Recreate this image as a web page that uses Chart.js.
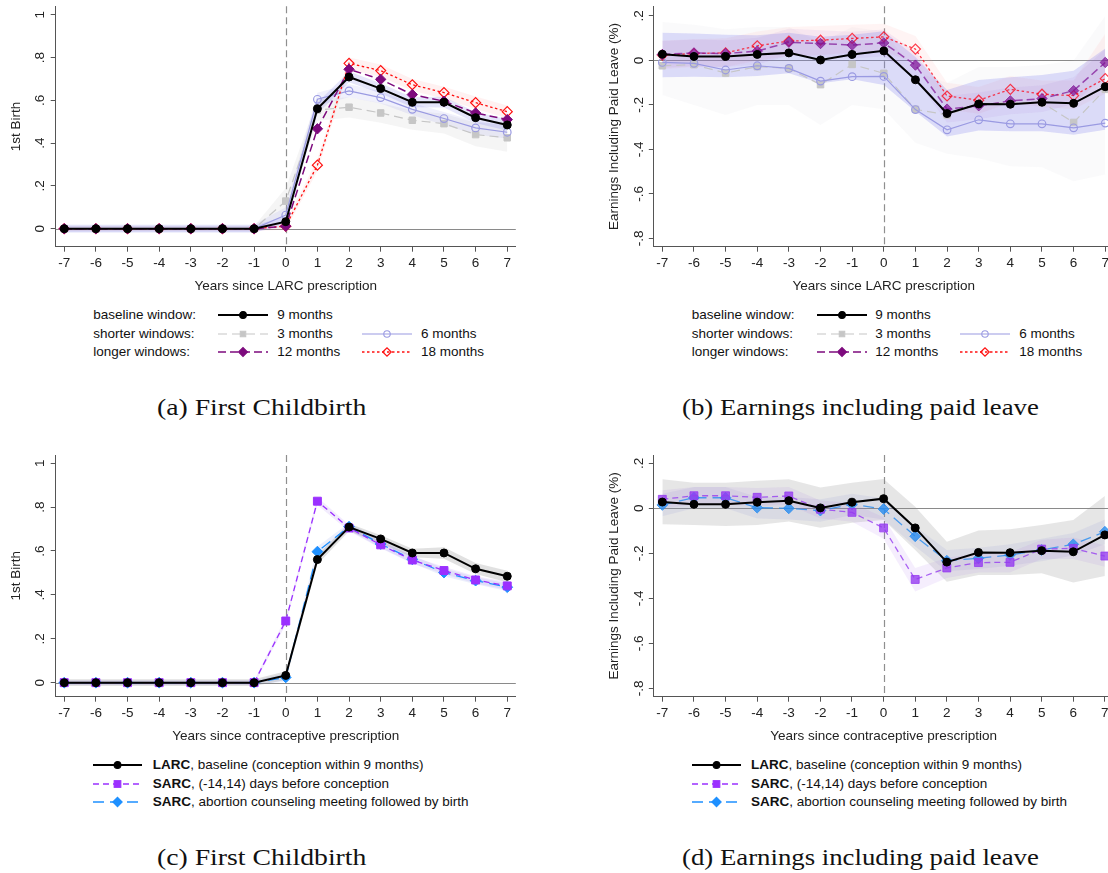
<!DOCTYPE html>
<html>
<head>
<meta charset="utf-8">
<script src="https://cdn.jsdelivr.net/npm/chart.js@4.4.1/dist/chart.umd.min.js"></script>
<style>
  html, body { margin: 0; padding: 0; background: #fff; overflow: hidden; width: 1108px; height: 873px; }
  body { position: relative; font-family: "Liberation Sans", Arial, sans-serif; color: #222; }
  canvas { position: absolute; }
  .leg { position: absolute; font-size: 13.5px; line-height: 16px; white-space: nowrap; color: #111; }
  .cap { position: absolute; font-family: "Liberation Serif", "Times New Roman", serif; font-size: 24px;
         line-height: 24px; white-space: nowrap; transform-origin: 0 50%; color: #111; }
</style>
</head>
<body>
<canvas id="ca"></canvas>
<canvas id="cb"></canvas>
<canvas id="cc"></canvas>
<canvas id="cd"></canvas>
<div id="legends"></div>
<div class="cap" data-w="209" style="left:157px;top:395px">(a) First Childbirth</div>
<div class="cap" data-w="357" style="left:682px;top:395px">(b) Earnings including paid leave</div>
<div class="cap" data-w="209" style="left:157px;top:845px">(c) First Childbirth</div>
<div class="cap" data-w="357" style="left:682px;top:845px">(d) Earnings including paid leave</div>
<script>
// ---- data ----
const years = [-7, -6, -5, -4, -3, -2, -1, 0, 1, 2, 3, 4, 5, 6, 7];
const birthTicks = [0, 0.2, 0.4, 0.6, 0.8, 1];
const birthTickLabels = ['0', '.2', '.4', '.6', '.8', '1'];
const earnTicks = [-0.8, -0.6, -0.4, -0.2, 0, 0.2];
const earnTickLabels = ['-.8', '-.6', '-.4', '-.2', '0', '.2'];

// (a) first birth, by conception window
const birth9  = [0, 0, 0, 0, 0, 0, 0, 0.033, 0.561, 0.709, 0.655, 0.591, 0.591, 0.519, 0.485];
const birth3  = [0, 0, 0, 0, 0, 0, 0, 0.129, 0.555, 0.568, 0.541, 0.507, 0.491, 0.440, 0.425];
const birth6  = [0, 0, 0, 0, 0, 0, 0, 0.064, 0.605, 0.644, 0.613, 0.558, 0.515, 0.471, 0.451];
const birth12 = [0, 0, 0, 0, 0, 0, 0, 0.012, 0.467, 0.745, 0.698, 0.627, 0.596, 0.541, 0.510];
const birth18 = [0, 0, 0, 0, 0, 0, 0, 0.012, 0.297, 0.773, 0.739, 0.673, 0.636, 0.589, 0.547];
const bandA9Lo  = [-0.015, -0.015, -0.015, -0.015, -0.015, -0.015, -0.015, 0.010, 0.535, 0.685, 0.632, 0.568, 0.566, 0.494, 0.458];
const bandA9Hi  = [0.015, 0.015, 0.015, 0.015, 0.015, 0.015, 0.015, 0.058, 0.590, 0.735, 0.680, 0.615, 0.617, 0.545, 0.512];
const bandA6Lo  = [-0.02, -0.02, -0.02, -0.02, -0.02, -0.02, -0.02, 0.030, 0.575, 0.615, 0.585, 0.530, 0.485, 0.440, 0.420];
const bandA6Hi  = [0.02, 0.02, 0.02, 0.02, 0.02, 0.02, 0.02, 0.100, 0.635, 0.675, 0.643, 0.588, 0.545, 0.502, 0.482];
const bandA3Lo  = [-0.012, -0.012, -0.012, -0.012, -0.012, -0.012, -0.012, 0.070, 0.505, 0.520, 0.495, 0.462, 0.445, 0.385, 0.360];
const bandA3Hi  = [0.012, 0.012, 0.012, 0.012, 0.012, 0.012, 0.012, 0.190, 0.605, 0.615, 0.588, 0.552, 0.537, 0.495, 0.490];
const bandA18Lo = [-0.01, -0.01, -0.01, -0.01, -0.01, -0.01, -0.01, -0.005, 0.270, 0.745, 0.710, 0.645, 0.608, 0.560, 0.518];
const bandA18Hi = [0.01, 0.01, 0.01, 0.01, 0.01, 0.01, 0.01, 0.030, 0.325, 0.800, 0.768, 0.700, 0.664, 0.618, 0.576];

// (b) earnings incl. paid leave, by conception window
const earn9  = [0.028, 0.018, 0.018, 0.027, 0.034, 0.002, 0.027, 0.043, -0.087, -0.239, -0.196, -0.197, -0.188, -0.193, -0.118];
const earn3  = [-0.024, -0.019, -0.057, -0.028, -0.036, -0.109, -0.018, -0.058, -0.220, -0.245, -0.195, -0.190, -0.190, -0.279, -0.130];
const earn6  = [-0.009, -0.013, -0.043, -0.024, -0.036, -0.093, -0.073, -0.072, -0.221, -0.312, -0.267, -0.285, -0.285, -0.303, -0.282];
const earn12 = [0.027, 0.034, 0.031, 0.042, 0.082, 0.076, 0.069, 0.079, -0.021, -0.219, -0.204, -0.182, -0.172, -0.136, -0.009];
const earn18 = [0.024, 0.031, 0.034, 0.066, 0.087, 0.091, 0.099, 0.106, 0.051, -0.160, -0.179, -0.130, -0.152, -0.158, -0.082];
const bandB9Lo  = [-0.076, -0.073, -0.076, -0.070, -0.058, -0.103, -0.085, -0.110, -0.230, -0.342, -0.315, -0.319, -0.319, -0.334, -0.312];
const bandB9Hi  = [0.125, 0.121, 0.116, 0.113, 0.125, 0.106, 0.116, 0.131, 0.016, -0.133, -0.088, -0.076, -0.066, -0.046, 0.054];
const bandB3Lo  = [-0.155, -0.200, -0.245, -0.200, -0.200, -0.290, -0.200, -0.220, -0.370, -0.420, -0.440, -0.476, -0.480, -0.543, -0.513];
const bandB3Hi  = [0.173, 0.160, 0.140, 0.150, 0.150, 0.080, 0.150, 0.130, -0.050, -0.100, -0.030, -0.030, -0.020, 0.000, 0.200];
const bandB12Lo = [-0.033, -0.026, -0.029, -0.018, 0.022, 0.016, 0.009, 0.019, -0.081, -0.279, -0.264, -0.242, -0.232, -0.196, -0.069];
const bandB12Hi = [0.087, 0.094, 0.091, 0.102, 0.142, 0.136, 0.129, 0.139, 0.039, -0.159, -0.144, -0.122, -0.112, -0.076, 0.051];
const bandB18Lo = [-0.040, -0.030, -0.030, 0.000, 0.020, 0.025, 0.035, 0.040, -0.010, -0.220, -0.240, -0.190, -0.210, -0.220, -0.150];
const bandB18Hi = [0.090, 0.095, 0.100, 0.130, 0.150, 0.155, 0.160, 0.165, 0.110, -0.100, -0.120, -0.070, -0.090, -0.090, 0.120];

// (c) first birth, LARC vs SARC
const larcBirth  = birth9;
const sarcBirth  = [0, 0, 0, 0, 0, 0, 0, 0.281, 0.827, 0.705, 0.628, 0.559, 0.511, 0.468, 0.441];
const abortBirth = [0, 0, 0, 0, 0, 0, 0, 0.024, 0.597, 0.711, 0.632, 0.562, 0.502, 0.465, 0.435];
const bandC9Lo = [-0.015, -0.015, -0.015, -0.015, -0.015, -0.015, -0.015, 0.012, 0.540, 0.690, 0.635, 0.572, 0.565, 0.495, 0.458];
const bandC9Hi = [0.015, 0.015, 0.015, 0.015, 0.015, 0.015, 0.015, 0.052, 0.582, 0.725, 0.672, 0.610, 0.617, 0.545, 0.510];
const bandCsLo = [-0.01, -0.01, -0.01, -0.01, -0.01, -0.01, -0.01, 0.265, 0.810, 0.690, 0.612, 0.543, 0.495, 0.452, 0.423];
const bandCsHi = [0.01, 0.01, 0.01, 0.01, 0.01, 0.01, 0.01, 0.297, 0.845, 0.720, 0.645, 0.575, 0.528, 0.485, 0.460];
const bandCaLo = [-0.01, -0.01, -0.01, -0.01, -0.01, -0.01, -0.01, 0.005, 0.575, 0.695, 0.615, 0.545, 0.485, 0.448, 0.418];
const bandCaHi = [0.01, 0.01, 0.01, 0.01, 0.01, 0.01, 0.01, 0.043, 0.620, 0.728, 0.650, 0.580, 0.520, 0.482, 0.452];

// (d) earnings, LARC vs SARC
const larcEarn  = earn9;
const sarcEarn  = [0.040, 0.056, 0.056, 0.049, 0.055, -0.004, -0.018, -0.087, -0.316, -0.265, -0.241, -0.240, -0.181, -0.178, -0.212];
const abortEarn = [0.015, 0.047, 0.047, 0.003, 0.000, -0.010, 0.018, -0.003, -0.124, -0.233, -0.222, -0.207, -0.185, -0.160, -0.104];
const bandD9Lo = [-0.071, -0.074, -0.079, -0.074, -0.059, -0.086, -0.064, -0.052, -0.185, -0.326, -0.296, -0.296, -0.289, -0.330, -0.301];
const bandD9Hi = [0.129, 0.114, 0.114, 0.123, 0.129, 0.093, 0.114, 0.130, 0.007, -0.148, -0.099, -0.093, -0.074, -0.052, 0.055];
const bandDsLo = [0.000, 0.015, 0.015, 0.010, 0.015, -0.045, -0.060, -0.135, -0.370, -0.310, -0.285, -0.285, -0.225, -0.225, -0.260];
const bandDsHi = [0.080, 0.095, 0.095, 0.090, 0.095, 0.035, 0.025, -0.040, -0.265, -0.220, -0.200, -0.195, -0.140, -0.130, -0.165];
const bandDaLo = [-0.035, 0.000, 0.000, -0.045, -0.050, -0.060, -0.030, -0.050, -0.170, -0.280, -0.270, -0.255, -0.235, -0.210, -0.160];
const bandDaHi = [0.065, 0.095, 0.095, 0.050, 0.050, 0.040, 0.065, 0.045, -0.080, -0.185, -0.175, -0.160, -0.135, -0.110, -0.050];

// ---- styles ----
const S = {
  m9:    { color: '#000000', width: 2,   dash: [],      point: 'circle',  r: 4,   fill: true },
  m3:    { color: '#c6c6c6', width: 1.2, dash: [9, 5],  point: 'rect',    r: 4.6, fill: true },
  m6:    { color: '#9a9ae2', width: 1.2, dash: [],      point: 'circle',  r: 3.8, fill: false },
  m12:   { color: '#7d0a7d', width: 1.5, dash: [8, 4],  point: 'rectRot', r: 5.2, fill: true },
  m18:   { color: '#ff1010', width: 1.3, dash: [2.5, 2.5], point: 'rectRot', r: 5, fill: false },
  sarc:  { color: '#9b30ff', width: 1.3, dash: [6, 4],  point: 'rect',    r: 5.6, fill: true },
  abort: { color: '#1e90ff', width: 1.3, dash: [11, 6], point: 'rectRot', r: 5.4, fill: true }
};
const fontSpec = { family: '"Liberation Sans", Arial, sans-serif', size: 13.5 };

function pts(vals) { return years.map((x, i) => ({ x, y: vals[i] })); }

function lineDs(vals, st, order, color) {
  const c = color || st.color;
  return {
    data: pts(vals), borderColor: c, borderWidth: st.width, borderDash: st.dash,
    pointStyle: st.point, pointRadius: st.r, pointBorderWidth: st.fill ? 1 : 1.2,
    pointBackgroundColor: st.fill ? c : 'rgba(0,0,0,0)', pointBorderColor: c,
    fill: false, tension: 0, order
  };
}
function bandDs(lo, hi, color, order) {
  return [
    { data: pts(lo), borderColor: 'rgba(0,0,0,0)', borderWidth: 1, pointRadius: 0, fill: false, order },
    { data: pts(hi), borderColor: 'rgba(0,0,0,0)', borderWidth: 1, pointRadius: 0, fill: '-1', backgroundColor: color, order }
  ];
}

// reference lines + rotated y tick labels (Stata look)
const stataAxes = {
  id: 'stataAxes',
  beforeDatasetsDraw(chart) {
    const { ctx, chartArea: a, scales: { x, y } } = chart;
    ctx.save();
    ctx.lineWidth = 1;
    ctx.strokeStyle = '#8a8a8a';
    const y0 = Math.round(y.getPixelForValue(0)) + 0.5;
    ctx.beginPath(); ctx.moveTo(a.left, y0); ctx.lineTo(a.right, y0); ctx.stroke();
    ctx.strokeStyle = '#8f8f8f';
    ctx.lineWidth = 1.2;
    ctx.setLineDash([7, 4]);
    const x0 = Math.round(x.getPixelForValue(0)) + 0.5;
    ctx.beginPath(); ctx.moveTo(x0, a.top); ctx.lineTo(x0, a.bottom); ctx.stroke();
    ctx.restore();
  },
  afterDraw(chart, args, opts) {
    const { ctx, chartArea: a, scales: { y } } = chart;
    ctx.save();
    ctx.font = '13.5px "Liberation Sans", Arial, sans-serif';
    ctx.fillStyle = '#222';
    ctx.textAlign = 'center';
    ctx.textBaseline = 'middle';
    opts.ticks.forEach((v, i) => {
      ctx.save();
      ctx.translate(a.left - 15, y.getPixelForValue(v));
      ctx.rotate(-Math.PI / 2);
      ctx.fillText(opts.labels[i], 0, 0);
      ctx.restore();
    });
    ctx.restore();
  }
};

function buildChart(p) {
  const c = document.getElementById(p.id);
  const [bx, by, bw, bh] = p.box;
  c.style.left = bx + 'px'; c.style.top = by + 'px';
  c.width = bw; c.height = bh;
  const xH = 50;
  const aL = p.area[0] - bx, aR = p.area[1] - bx, aT = p.area[2] - by, aB = p.area[3] - by;
  const yTitlePad = (aL - 39.5) - 8.1;
  new Chart(c, {
    type: 'line',
    data: { datasets: p.datasets },
    options: {
      responsive: false, animation: false, events: [],
      layout: { padding: { left: 0, right: bw - aR, top: aT, bottom: bh - aB - xH } },
      plugins: {
        legend: { display: false }, tooltip: { enabled: false },
        stataAxes: { ticks: p.yTicks, labels: p.yLabels }
      },
      scales: {
        x: {
          type: 'linear', min: -7.27, max: 7.27,
          afterBuildTicks: s => { s.ticks = years.map(v => ({ value: v })); },
          afterFit: s => { s.height = xH; },
          grid: { drawOnChartArea: false, drawTicks: true, tickLength: 5, color: '#555' },
          border: { color: '#555', width: 1 },
          ticks: { font: fontSpec, color: '#222', padding: 3, autoSkip: false, maxRotation: 0, callback: v => String(v) },
          title: { display: true, text: p.xTitle, font: fontSpec, color: '#222', padding: { top: 0, bottom: 2 } }
        },
        y: {
          type: 'linear', min: p.yMin, max: p.yMax,
          afterBuildTicks: s => { s.ticks = p.yTicks.map(v => ({ value: v })); },
          afterFit: s => { s.width = aL; },
          grid: { drawOnChartArea: false, drawTicks: true, tickLength: 5, color: '#555' },
          border: { color: '#555', width: 1 },
          ticks: { display: false },
          title: { display: true, text: p.yTitle, font: fontSpec, color: '#222', padding: { top: yTitlePad, bottom: 0 } }
        }
      }
    },
    plugins: [stataAxes]
  });
}

const panels = [
  {
    id: 'ca', box: [0, 0, 550, 300], area: [55.7, 515.8, 5.7, 246.7],
    yMin: -0.084, yMax: 1.04, yTicks: birthTicks, yLabels: birthTickLabels,
    xTitle: 'Years since LARC prescription', yTitle: '1st Birth',
    datasets: [
      lineDs(birth9, S.m9, 0),
      lineDs(birth12, S.m12, 1),
      lineDs(birth18, S.m18, 2),
      lineDs(birth6, S.m6, 3),
      lineDs(birth3, S.m3, 4),
      ...bandDs(bandA9Lo, bandA9Hi, 'rgba(110,110,230,0.18)', 10),
      ...bandDs(bandA6Lo, bandA6Hi, 'rgba(140,140,235,0.13)', 11),
      ...bandDs(bandA18Lo, bandA18Hi, 'rgba(255,140,140,0.12)', 12),
      ...bandDs(bandA3Lo, bandA3Hi, 'rgba(190,190,190,0.15)', 13)
    ]
  },
  {
    id: 'cb', box: [600, 0, 520, 300], area: [653.8, 1114.8, 6, 246.7],
    yMin: -0.838, yMax: 0.244, yTicks: earnTicks, yLabels: earnTickLabels,
    xTitle: 'Years since LARC prescription', yTitle: 'Earnings Including Paid Leave (%)',
    datasets: [
      lineDs(earn9, S.m9, 0),
      lineDs(earn12, S.m12, 1, 'rgba(128,20,150,0.72)'),
      lineDs(earn18, S.m18, 2, 'rgba(255,0,20,0.75)'),
      lineDs(earn6, S.m6, 3),
      lineDs(earn3, S.m3, 4),
      ...bandDs(bandB9Lo, bandB9Hi, 'rgba(110,110,235,0.22)', 10),
      ...bandDs(bandB12Lo, bandB12Hi, 'rgba(170,90,200,0.09)', 11),
      ...bandDs(bandB18Lo, bandB18Hi, 'rgba(255,150,150,0.10)', 12),
      ...bandDs(bandB3Lo, bandB3Hi, 'rgba(205,205,220,0.10)', 13)
    ]
  },
  {
    id: 'cc', box: [0, 440, 550, 310], area: [55.7, 515.8, 455, 696.7],
    yMin: -0.064, yMax: 1.0375, yTicks: birthTicks, yLabels: birthTickLabels,
    xTitle: 'Years since contraceptive prescription', yTitle: '1st Birth',
    datasets: [
      lineDs(larcBirth, S.m9, 0),
      lineDs(sarcBirth, S.sarc, 1),
      lineDs(abortBirth, S.abort, 2),
      ...bandDs(bandC9Lo, bandC9Hi, 'rgba(120,120,120,0.22)', 10),
      ...bandDs(bandCsLo, bandCsHi, 'rgba(170,120,240,0.15)', 11),
      ...bandDs(bandCaLo, bandCaHi, 'rgba(110,130,230,0.13)', 12)
    ]
  },
  {
    id: 'cd', box: [600, 440, 520, 310], area: [653.8, 1114.8, 455, 696.7],
    yMin: -0.837, yMax: 0.237, yTicks: earnTicks, yLabels: earnTickLabels,
    xTitle: 'Years since contraceptive prescription', yTitle: 'Earnings Including Paid Leave (%)',
    datasets: [
      lineDs(larcEarn, S.m9, 0),
      lineDs(sarcEarn, S.sarc, 1, 'rgba(150,60,240,0.8)'),
      lineDs(abortEarn, S.abort, 2, 'rgba(40,140,240,0.8)'),
      ...bandDs(bandD9Lo, bandD9Hi, 'rgba(140,140,140,0.22)', 10),
      ...bandDs(bandDsLo, bandDsHi, 'rgba(180,120,240,0.13)', 11),
      ...bandDs(bandDaLo, bandDaHi, 'rgba(120,130,230,0.12)', 12)
    ]
  }
];
panels.forEach(buildChart);

// ---- legends (HTML) ----
function markerSvg(st, cx, cy) {
  const r = st.r * 0.85;
  const fill = st.fill ? st.color : 'none';
  if (st.point === 'circle') return `<circle cx="${cx}" cy="${cy}" r="${r}" fill="${fill}" stroke="${st.color}" stroke-width="1.1"/>`;
  if (st.point === 'rect') {
    const h = r * Math.SQRT1_2;
    return `<rect x="${cx - h}" y="${cy - h}" width="${2 * h}" height="${2 * h}" fill="${fill}" stroke="${st.color}" stroke-width="1"/>`;
  }
  return `<polygon points="${cx - r},${cy} ${cx},${cy - r} ${cx + r},${cy} ${cx},${cy + r}" fill="${fill}" stroke="${st.color}" stroke-width="1.2"/>`;
}
function sample(st, x0, x1, y) {
  const w = x1 - x0;
  return `<svg style="position:absolute;left:${x0}px;top:${y - 7}px" width="${w}" height="14">` +
    `<line x1="0" y1="7" x2="${w}" y2="7" stroke="${st.color}" stroke-width="${st.width}" stroke-dasharray="${st.dash.join(',') || 'none'}"/>` +
    markerSvg(st, w / 2, 7) + `</svg>`;
}
function text(t, x, y) { return `<div class="leg" style="left:${x}px;top:${y - 8}px">${t}</div>`; }

const windowRows = [
  { head: 'baseline window:', items: [[S.m9, '9 months']] },
  { head: 'shorter windows:', items: [[S.m3, '3 months'], [S.m6, '6 months']] },
  { head: 'longer windows:',  items: [[S.m12, '12 months'], [S.m18, '18 months']] }
];
const methodRows = [
  [S.m9, '<b>LARC</b>, baseline (conception within 9 months)'],
  [S.sarc, '<b>SARC</b>, (-14,14) days before conception'],
  [S.abort, '<b>SARC</b>, abortion counseling meeting followed by birth']
];
const rowY = [315, 333.5, 352.3];
const rowY2 = [765, 783.5, 802.3];
let html = '';
[[93.3, 218.3, 277.3, 361.7, 421], [691.7, 816.7, 875.3, 960, 1019.3]].forEach(([hx, s1, t1, s2, t2]) => {
  windowRows.forEach((row, i) => {
    html += text(row.head, hx, rowY[i]);
    html += sample(row.items[0][0], s1, s1 + 50, rowY[i]) + text(row.items[0][1], t1, rowY[i]);
    if (row.items[1]) html += sample(row.items[1][0], s2, s2 + 50, rowY[i]) + text(row.items[1][1], t2, rowY[i]);
  });
});
[[93.3, 152.7], [691.7, 751]].forEach(([sx, tx]) => {
  methodRows.forEach((row, i) => {
    html += sample(row[0], sx, sx + 49, rowY2[i]) + text(row[1], tx, rowY2[i]);
  });
});
document.getElementById('legends').innerHTML = html;

document.querySelectorAll('.cap').forEach(el => {
  const w = parseFloat(el.dataset.w);
  el.style.transform = `scaleX(${w / el.offsetWidth})`;
});
</script>
</body>
</html>
